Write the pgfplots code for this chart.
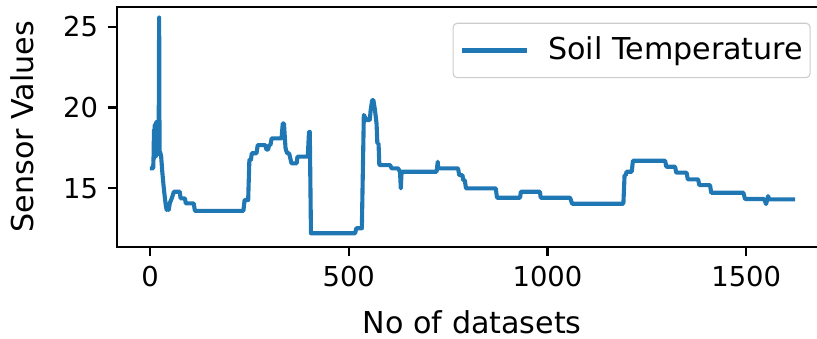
\documentclass[border=0pt]{standalone}
\usepackage{fontspec}
\setmainfont{DejaVu Sans}
\usepackage{pgfplots}
\pgfplotsset{compat=1.18}
\definecolor{mplblue}{HTML}{1F77B4}
\begin{document}
\fontsize{10}{12}\selectfont
\begin{tikzpicture}
\begin{axis}[
  scale only axis, width=259.15pt, height=87.6pt,
  xmin=-82.3, xmax=1704, ymin=11.39, ymax=26.24,
  xtick={0,500,1000,1500}, ytick={15,20,25},
  tick align=outside, tick pos=left, major tick length=3.5pt,
  every tick/.style={black, line width=0.8pt},
  axis line style={line width=0.8pt},
  /pgf/number format/assume math mode=true,
  /pgf/number format/1000 sep={},
  ticklabel style={font=\fontsize{10}{12}\selectfont},
  xlabel={No of datasets}, ylabel={Sensor Values},
  label style={font=\fontsize{11}{13}\selectfont},
  xlabel style={at={(axis description cs:0.5,-0.3138)}, anchor=center},
  ylabel style={at={(axis description cs:-0.1335,0.5)}, anchor=center},
  legend style={at={(rel axis cs:0.9766,0.9333)}, anchor=north east,
    draw=black!20, rounded corners=1.5pt, fill=white, fill opacity=0.8, text opacity=1,
    inner xsep=2.55pt, inner ysep=5.0pt, column sep=7pt,
    nodes={inner sep=0pt}, font=\fontsize{11}{13}\selectfont},
  legend cell align=left,
  legend image code/.code={\draw[#1] (0pt,0pt) -- (23.7pt,0pt);},
]
\addplot[mplblue, line width=1.5pt, line join=round] coordinates {
(0,16.24) (8,16.24) (9,17.0) (10,18.6) (11,16.9) (12,18.9) (13,17.2) (14,19.0)
(15,17.0) (16,19.1) (17,17.3) (18,18.8) (19,17.1) (20,19.0) (21,17.2) (22,19.1)
(23,25.57) (24,17.3) (26,17.2) (28,17.0) (31,16.0) (34,15.2) (37,14.5) (40,13.9)
(42,13.66) (45,13.9) (47,13.66) (50,14.1) (55,14.4) (60,14.79) (75,14.79)
(77,14.38) (88,14.38) (90,14.07) (110,14.07) (113,13.61) (235,13.61)
(238,14.28) (247,14.28) (250,16.75) (254,16.75) (256,17.17) (268,17.17)
(271,17.68) (290,17.68) (293,17.4) (297,17.4) (300,17.68) (303,17.68)
(306,18.09) (331,18.09) (334,19.02) (337,19.02) (341,17.48) (345,17.17)
(350,17.17) (356,16.55) (369,16.55) (371,16.96) (397,16.96) (400,18.5)
(402,18.5) (405,12.22) (516,12.22) (519,12.53) (533,12.53) (538,19.54)
(545,19.23) (553,19.23) (555,19.8) (559,20.46) (562,20.46) (566,19.85)
(570,19.0) (572,17.78) (575,17.78) (577,16.44) (604,16.44) (608,16.24)
(624,16.24) (629,16.03) (631,15.0) (633,16.03) (721,16.03) (724,16.65)
(725,16.24) (775,16.24) (778,15.82) (786,15.82) (788,15.51) (792,15.51)
(795,15.0) (870,15.0) (873,14.42) (931,14.42) (933,14.79) (981,14.79)
(983,14.42) (1057,14.42) (1062,14.05) (1191,14.05) (1194,15.82) (1197,15.82)
(1199,16.03) (1212,16.03) (1215,16.71) (1296,16.71) (1299,16.34) (1321,16.34)
(1324,15.97) (1350,15.97) (1353,15.56) (1379,15.56) (1382,15.20) (1409,15.20)
(1412,14.73) (1493,14.73) (1497,14.34) (1545,14.34) (1550,14.03) (1555,14.52)
(1558,14.32) (1623,14.32)
};
\legend{Soil Temperature\hspace{2.5pt}}
\end{axis}
\pgfresetboundingbox
\path[use as bounding box] (-42.81pt,-33.32pt) rectangle (255.39pt,90.05pt);
\end{tikzpicture}
\end{document}
